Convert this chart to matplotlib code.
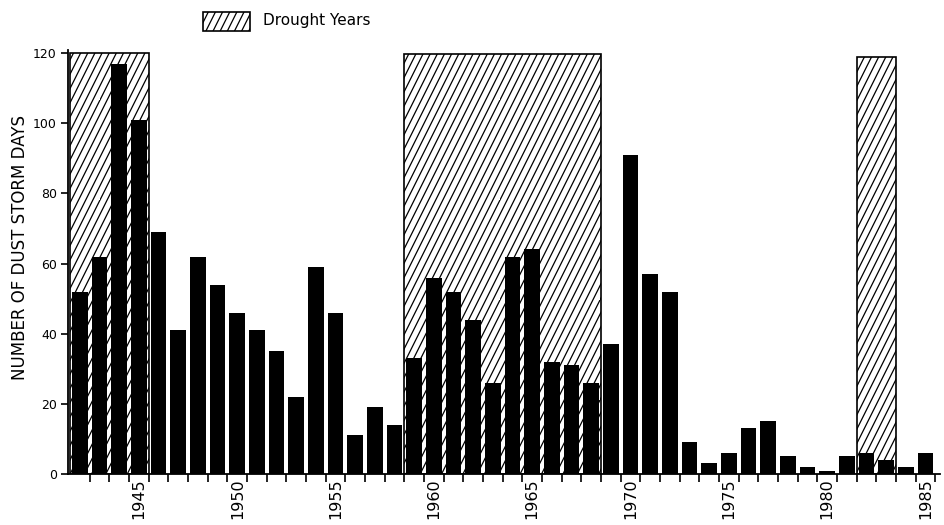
import numpy as np
import matplotlib
matplotlib.use("Agg")
import matplotlib.pyplot as plt
from matplotlib import hatch as mhatch
from matplotlib.path import Path
from matplotlib.patches import Rectangle

# ---------------------------------------------------------------- data
years = np.arange(1942, 1986)
dust_days = [52, 62, 117, 101, 69, 41, 62, 54, 46, 41, 35, 22, 59, 46, 11,
             19, 14, 33, 56, 52, 44, 26, 62, 64, 32, 31, 26, 37, 91, 57,
             52, 9, 3, 6, 13, 15, 5, 2, 1, 5, 6, 4, 2, 6]
drought_start = [1942, 1959, 1982]
drought_end = [1945, 1968, 1983]
drought_top = [120, 119.6, 119]
label_years = [1945, 1950, 1955, 1960, 1965, 1970, 1975, 1980, 1985]
y_ticks = [0, 20, 40, 60, 80, 100, 120]


# Steeper single-direction hatch (about 62 degrees) used for drought spans
class SteepHatch(mhatch.HatchPatternBase):
    LINES = 14
    RUN = 7  # horizontal run per tile height, in line spacings

    def __init__(self, hatch, density):
        if '/' in hatch:
            self.num_lines = self.LINES + self.RUN
        else:
            self.num_lines = 0
        self.num_vertices = self.num_lines * 2

    def set_vertices_and_codes(self, vertices, codes):
        n = self.LINES
        starts = np.arange(-self.RUN, n) / n
        vertices[0::2, 0] = starts
        vertices[0::2, 1] = 0.0
        vertices[1::2, 0] = starts + self.RUN / n
        vertices[1::2, 1] = 1.0
        codes[0::2] = Path.MOVETO
        codes[1::2] = Path.LINETO


mhatch._hatch_types[:] = [SteepHatch if t is mhatch.NorthEastHatch else t
                          for t in mhatch._hatch_types]
plt.rcParams['hatch.linewidth'] = 0.9

# ---------------------------------------------------------------- figure
fig = plt.figure(figsize=(9.44, 5.25), dpi=100)
ax = fig.add_axes([0.0720, 0.0971, 0.9237, 0.8086])

for s, e, top in zip(drought_start, drought_end, drought_top):
    ax.bar((s + e) / 2, top, width=(e - s + 1), facecolor='white',
           edgecolor='black', linewidth=1.2, hatch='/', zorder=1)

ax.bar(years, dust_days, width=0.8, color='black', zorder=2)

ax.set_xlim(1941.39, 1985.74)
ax.set_ylim(0, 121)

for side in ('top', 'right'):
    ax.spines[side].set_visible(False)
for side in ('left', 'bottom'):
    ax.spines[side].set_linewidth(1.3)

ax.set_yticks(y_ticks)
ax.set_yticklabels([str(v) for v in y_ticks], fontsize=9)
ax.tick_params(axis='y', direction='out', length=5, width=1.2, pad=3)

ax.set_xticks(label_years)
ax.set_xticklabels([str(v) for v in label_years], rotation=90,
                   fontsize=11.5)
ax.set_xticks(years + 0.5, minor=True)
ax.tick_params(axis='x', which='major', length=0, pad=3)
ax.tick_params(axis='x', which='minor', direction='out', length=6,
               width=1.2)

fig.text(0.021, 0.528, 'NUMBER OF DUST STORM DAYS', rotation=90,
         ha='center', va='center', fontsize=12)

# legend
fig.add_artist(Rectangle((0.215, 0.941), 0.0498, 0.036,
                         transform=fig.transFigure, facecolor='white',
                         edgecolor='black', linewidth=1.2, hatch='/'))
fig.text(0.2786, 0.960, 'Drought Years', ha='left', va='center',
         fontsize=11)

fig.savefig('out.png', dpi=100)
